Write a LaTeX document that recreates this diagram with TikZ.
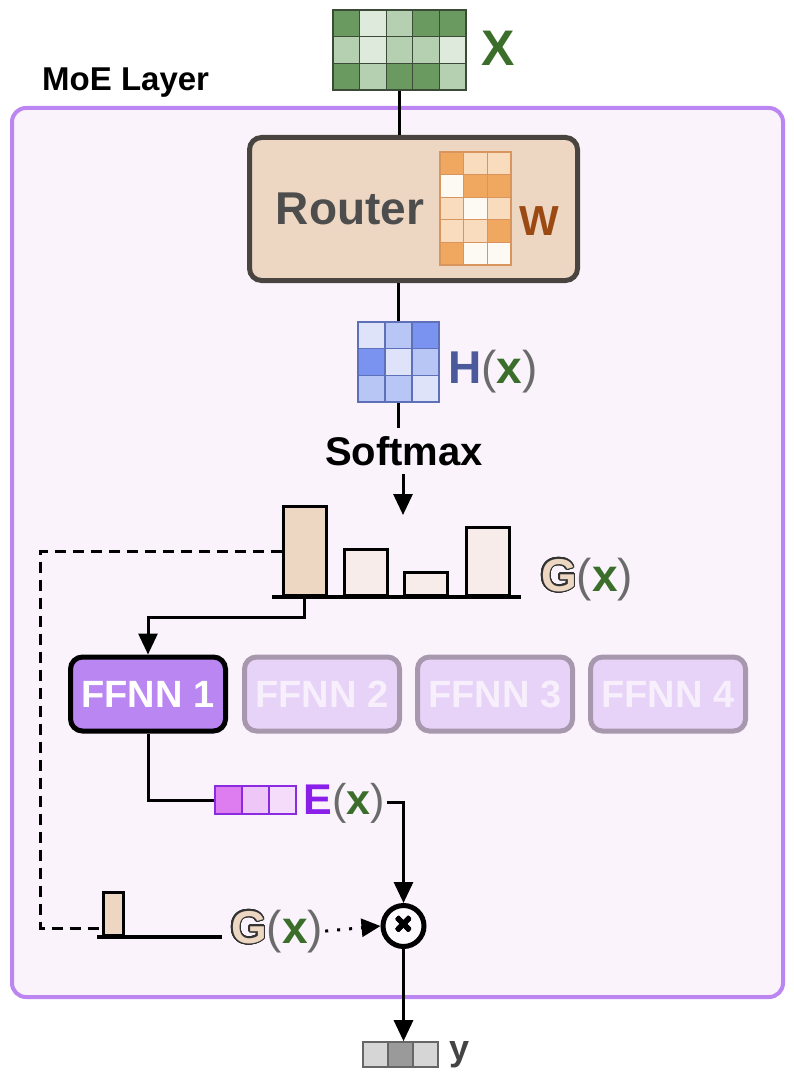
\documentclass[tikz,border=0pt]{standalone}
\usepackage{fontspec}
\setmainfont{Liberation Sans}
\usepackage{contour}
\contourlength{1.2pt}
\contournumber{32}
\usetikzlibrary{arrows.meta}

\definecolor{moeline}{HTML}{BB86F2}
\definecolor{moefill}{HTML}{FAF3FC}
\definecolor{xd}{HTML}{6B9A61}
\definecolor{xm}{HTML}{B5CFB1}
\definecolor{xl}{HTML}{DEEADB}
\definecolor{xgrid}{HTML}{3C4A38}
\definecolor{xgreen}{HTML}{3A6E2A}
\definecolor{routerfill}{HTML}{EDD7C3}
\definecolor{routerline}{HTML}{4A4440}
\definecolor{routertext}{HTML}{4D4D4D}
\definecolor{wo}{HTML}{F0A860}
\definecolor{wl}{HTML}{F9DCBE}
\definecolor{ww}{HTML}{FDF9F3}
\definecolor{wgrid}{HTML}{D9955E}
\definecolor{wbrown}{HTML}{9C4A14}
\definecolor{hd}{HTML}{7B93F0}
\definecolor{hm}{HTML}{B8C6F6}
\definecolor{hl}{HTML}{DEE3FA}
\definecolor{hgrid}{HTML}{5D70B8}
\definecolor{hblue}{HTML}{4A5A9A}
\definecolor{parengray}{HTML}{6B6B6B}
\definecolor{bartan}{HTML}{EDD7C3}
\definecolor{barlight}{HTML}{F7ECEA}
\definecolor{gline}{HTML}{333333}
\definecolor{ffnnon}{HTML}{B986F2}
\definecolor{ffnnoff}{HTML}{E8D3F8}
\definecolor{ffnnline}{HTML}{A898AE}
\definecolor{ffnntext}{HTML}{F7EFFB}
\definecolor{ea}{HTML}{DE7DF0}
\definecolor{eb}{HTML}{EEC6F8}
\definecolor{ec}{HTML}{F5DCFA}
\definecolor{egrid}{HTML}{8A2BE2}
\definecolor{epurple}{HTML}{8B1FEA}
\definecolor{yl}{HTML}{D6D6D6}
\definecolor{yd}{HTML}{9A9A9A}
\definecolor{ygrid}{HTML}{666666}
\definecolor{ylabel}{HTML}{444444}

\newcommand{\sizept}[1]{\fontsize{#1}{#1}\selectfont}
\newcommand{\argx}{{\mdseries\color{parengray}(}{\color{xgreen}x}{\mdseries\color{parengray})}}
\newcommand{\gout}{\contour{gline}{\textcolor{bartan}{G}}}

\begin{document}
\begin{tikzpicture}[x=1pt,y=-1pt,
  moebox/.style={draw=moeline,fill=moefill,line width=4pt,rounded corners=14pt,
    minimum width=771pt,minimum height=889pt,inner sep=0pt},
  cell/.style={draw=#1,line width=1.2pt},
  frame/.style={draw=#1,line width=1.6pt,inner sep=0pt},
  lbl/.style={anchor=base,inner sep=2pt,font=\bfseries\sizept{#1}},
  wire/.style={line width=3pt},
  arr/.style={wire,-{Triangle[length=21pt,width=19pt]}},
  dashline/.style={wire,dash pattern=on 11pt off 7pt},
  dotarr/.style={wire,dash pattern=on 3pt off 9pt,-{Triangle[length=19pt,width=18pt]}},
  bar/.style={draw,line width=3pt,minimum width=43pt,inner sep=0pt,anchor=south},
  ffnn/.style={rounded corners=12pt,minimum width=155pt,minimum height=74pt,
    line width=5pt,inner sep=0pt,font=\bfseries\sizept{38}},
  ffnnact/.style={ffnn,draw=black,fill=ffnnon,text=white},
  ffnnfade/.style={ffnn,draw=ffnnline,fill=ffnnoff,text=ffnntext}]
\useasboundingbox (0,0) rectangle (794,1078);

\node[moebox] (moe) at (397.5,552.5) {};
\node[anchor=base west,inner sep=0pt,font=\bfseries\sizept{33}] (title) at (42,91) {MoE Layer};

\foreach \row [count=\r from 0] in {{xd,xl,xm,xd,xd},{xm,xl,xm,xm,xl},{xd,xm,xd,xd,xm}}
  \foreach \c [count=\k from 0] in \row
    \draw[cell=xgrid,fill=\c] (333+\k*26.6,10+\r*26.67) rectangle ++(26.6,26.67);
\node[frame=xgrid,minimum width=133pt,minimum height=80pt] (xin) at (399.5,50) {};
\node[lbl=50,text=xgreen] (xlab) at (498,66) {X};

\node[draw=routerline,fill=routerfill,line width=5pt,rounded corners=12pt,
  minimum width=328pt,minimum height=143pt] (router) at (413.5,209) {};
\node[lbl=46,text=routertext] (rtext) at (350,224) {Router};
\foreach \row [count=\r from 0] in {{wo,wl,wl},{ww,wo,wo},{wl,ww,wl},{wl,wl,wo},{wo,ww,ww}}
  \foreach \c [count=\k from 0] in \row
    \draw[cell=wgrid,fill=\c] (440+\k*23.67,152+\r*22.6) rectangle ++(23.67,22.6);
\node[frame=wgrid,minimum width=71pt,minimum height=113pt] (wmat) at (475.5,208.5) {};
\node[lbl=42,text=wbrown] (wlab) at (539,235) {W};

\foreach \row [count=\r from 0] in {{hl,hm,hd},{hd,hl,hm},{hm,hm,hl}}
  \foreach \c [count=\k from 0] in \row
    \draw[cell=hgrid,fill=\c] (358+\k*27,322+\r*26.67) rectangle ++(27,26.67);
\node[frame=hgrid,minimum width=81pt,minimum height=80pt] (hmat) at (398.5,362) {};
\node[lbl=46] (hlab) at (493,383) {\color{hblue}H\argx};

\node[lbl=40,inner sep=8pt] (softmax) at (404,465) {Softmax};
\coordinate (smtip) at (403,515);

\node[bar,fill=bartan,minimum height=89pt] (bar1) at (304.5,597) {};
\node[bar,fill=barlight,minimum height=46pt] (bar2) at (365.5,597) {};
\node[bar,fill=barlight,minimum height=23pt] (bar3) at (426,597) {};
\node[bar,fill=barlight,minimum height=68pt] (bar4) at (488,597) {};
\coordinate (gbl) at (272,597);
\coordinate (gbr) at (521,597);
\node[lbl=46] (glab) at (587,591) {\gout\argx};

\node[ffnnact] (ffnn1) at (148,694) {FFNN 1};
\node[ffnnfade] (ffnn2) at (322,694) {FFNN 2};
\node[ffnnfade] (ffnn3) at (495,694) {FFNN 3};
\node[ffnnfade] (ffnn4) at (668,694) {FFNN 4};

\foreach \c [count=\k from 0] in {ea,eb,ec}
  \draw[cell=egrid,fill=\c] (215+\k*27,786) rectangle ++(27,28);
\node[frame=egrid,minimum width=81pt,minimum height=28pt] (evec) at (255.5,800) {};
\node[lbl=43] (elab) at (344,814) {\color{epurple}E\argx};

\node[draw,line width=5pt,circle,fill=white!60!moefill,minimum size=41pt,inner sep=0pt,
  font=\bfseries\sizept{28}] (mult) at (403.5,926) {\contourlength{0.9pt}\contour{black}{×}};

\node[bar,fill=bartan,minimum width=20pt,minimum height=43pt] (sbar) at (113,937) {};
\coordinate (sbl) at (97,937);
\coordinate (sbr) at (222,937);
\coordinate (dcorner) at (40,928);
\node[lbl=46] (glab2) at (277,943) {\gout\argx};

\foreach \c [count=\k from 0] in {yl,yd,yl}
  \draw[cell=ygrid,fill=\c] (363+\k*25,1042) rectangle ++(25,25);
\node[frame=ygrid,minimum width=75pt,minimum height=25pt] (yvec) at (400.5,1054.5) {};
\node[lbl=36,text=ylabel] (ylab) at (460,1060) {y};

\draw[wire] (xin.south) -- (xin.south |- router.north);
\draw[wire] (hmat.north |- router.south) -- (hmat.north);
\draw[wire] (hmat.south) -- (hmat.south |- softmax.north);
\draw[arr] (softmax.south -| smtip) -- (smtip);
\draw[line width=4pt] (gbl) -- (gbr);
\draw[arr] (bar1.south) -- ++(0,20) -| (ffnn1.north);
\draw[dashline] (bar1.west) -| (dcorner) -- (dcorner -| sbar.west);
\draw[wire] (ffnn1.south) |- (evec.west);
\draw[arr] (elab.east) -| (mult.north);
\draw[line width=4pt] (sbl) -- (sbr);
\draw[dotarr] (glab2.east) -- (mult.west);
\draw[arr] (mult.south) -- (mult.south |- yvec.north);
\end{tikzpicture}
\end{document}
